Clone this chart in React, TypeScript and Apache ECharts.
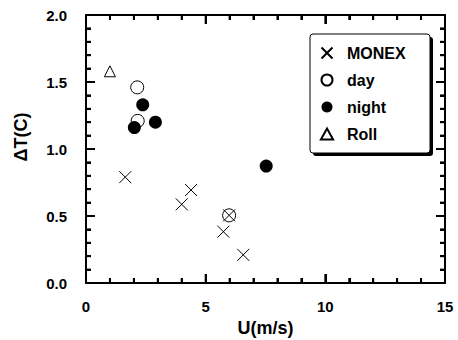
import React, { useEffect, useRef } from "react";
import * as echarts from "echarts";

const monex: number[][] = [
  [1.64, 0.79],
  [4.39, 0.694],
  [4.0, 0.587],
  [5.98, 0.505],
  [5.74, 0.383],
  [6.57, 0.21],
];
const day: number[][] = [
  [2.14, 1.46],
  [2.16, 1.21],
  [5.98, 0.505],
];
const night: number[][] = [
  [2.37, 1.33],
  [2.02, 1.16],
  [2.9, 1.2],
  [7.53, 0.873],
];
const roll: number[][] = [[1.0, 1.58]];

const xMajorTicks = [0, 5, 10, 15];
const xMinorTicks = [1, 2, 3, 4, 6, 7, 8, 9, 11, 12, 13, 14];
const yMajorTicks = [0, 0.5, 1.0, 1.5, 2.0];
const yMinorTicks = [0.1, 0.2, 0.3, 0.4, 0.6, 0.7, 0.8, 0.9, 1.1, 1.2, 1.3, 1.4, 1.6, 1.7, 1.8, 1.9];

const FONT = "Liberation Sans, Arial, Helvetica, sans-serif";
const CROSS = "path://M0,0L10,10M10,0L0,10";
const TRIANGLE = "path://M5,0L10,9L0,9Z";
const X_MIN = 0, X_MAX = 15, Y_MIN = 0, Y_MAX = 2;

function axisParts() {
  return {
    axisLine: { show: true, onZero: false, lineStyle: { color: "#000", width: 2 } },
    axisTick: { show: true, inside: true, length: 9, lineStyle: { color: "#000", width: 2 } },
    minorTick: { show: true, splitNumber: 5, length: 5, lineStyle: { color: "#000", width: 2 } },
    splitLine: { show: false },
  };
}

export default function App() {
  const ref = useRef<HTMLDivElement>(null);
  useEffect(() => {
    const chart = echarts.init(ref.current!, null, { renderer: "svg" });
    const labelStyle = () => ({ color: "#000", fontFamily: FONT, fontWeight: "bold" as const, fontSize: 15 });
    // tick data: [value, kind] kind: 0 x-major, 1 x-minor, 2 y-major, 3 y-minor
    const tickData: number[][] = [
      ...xMajorTicks.map((v) => [v, 0]),
      ...xMinorTicks.map((v) => [v, 1]),
      ...yMajorTicks.map((v) => [v, 2]),
      ...yMinorTicks.map((v) => [v, 3]),
    ];
    chart.setOption({
      animation: false,
      backgroundColor: "#fff",
      grid: { left: 86, top: 15, right: 13, bottom: 57, outerBoundsMode: "none" },
      xAxis: [
        {
          type: "value", min: X_MIN, max: X_MAX, interval: 5,
          ...axisParts(),
          axisLabel: { ...labelStyle(), margin: 16 },
          name: "U(m/s)", nameLocation: "middle", nameGap: 35,
          nameTextStyle: { color: "#000", fontFamily: FONT, fontWeight: "bold", fontSize: 18 },
        },
        {
          type: "value", min: X_MIN, max: X_MAX, interval: 5, position: "top",
          ...axisParts(), axisLabel: { show: false },
        },
      ],
      yAxis: [
        {
          type: "value", min: Y_MIN, max: Y_MAX, interval: 0.5,
          ...axisParts(),
          axisLabel: { ...labelStyle(), margin: 19, formatter: (v: number) => v.toFixed(1) },
          name: "ΔT(C)", nameLocation: "middle", nameGap: 56, nameRotate: 90,
          nameTextStyle: { color: "#000", fontFamily: FONT, fontWeight: "bold", fontSize: 18, padding: [0, 0, 0, 24] },
        },
        {
          type: "value", min: Y_MIN, max: Y_MAX, interval: 0.5, position: "right",
          ...axisParts(), axisLabel: { show: false },
        },
      ],
      legend: {
        orient: "vertical", left: 314, top: 40, itemWidth: 30, itemHeight: 11, itemGap: 11,
        symbolKeepAspect: true,
        data: ["MONEX", "day", "night", "Roll"],
        textStyle: { color: "#000", fontFamily: FONT, fontWeight: "bold", fontSize: 16 },
        z: 10,
      },
      graphic: [
        { type: "rect", z: 5, shape: { x: 313, y: 37, width: 120, height: 119, r: 3 }, style: { fill: "#000" } },
        { type: "rect", z: 6, shape: { x: 310, y: 34, width: 120, height: 119, r: 3 }, style: { fill: "#fff", stroke: "#000", lineWidth: 1 } },
      ],
      series: [
        {
          name: "ticks", type: "custom", silent: true, clip: false, z: 3,
          xAxisIndex: 0, yAxisIndex: 0,
          data: tickData,
          renderItem: (_params: any, api: any) => {
            const v = Number(api.value(0));
            const kind = Number(api.value(1));
            const len = kind === 0 || kind === 2 ? 9 : 5;
            const st = { stroke: "#000", lineWidth: 2, fill: "none" };
            if (kind < 2) {
              const b = api.coord([v, Y_MIN]);
              const t = api.coord([v, Y_MAX]);
              return {
                type: "group",
                children: [
                  { type: "line", shape: { x1: b[0], y1: b[1], x2: b[0], y2: b[1] - len }, style: st },
                  { type: "line", shape: { x1: t[0], y1: t[1], x2: t[0], y2: t[1] + len }, style: st },
                ],
              };
            }
            const l = api.coord([X_MIN, v]);
            const r = api.coord([X_MAX, v]);
            return {
              type: "group",
              children: [
                { type: "line", shape: { x1: l[0], y1: l[1], x2: l[0] + len, y2: l[1] }, style: st },
                { type: "line", shape: { x1: r[0], y1: r[1], x2: r[0] - len, y2: r[1] }, style: st },
              ],
            };
          },
        },
        {
          name: "MONEX", type: "scatter", data: monex, symbol: CROSS, symbolSize: 12,
          color: "#000",
          itemStyle: { color: "none", borderColor: "#000", borderWidth: 1, opacity: 1 },
        },
        {
          name: "day", type: "scatter", data: day, symbol: "circle", symbolSize: 13,
          color: "#000",
          itemStyle: { color: "rgba(0,0,0,0)", borderColor: "#000", borderWidth: 1, opacity: 1 },
        },
        {
          name: "night", type: "scatter", data: night, symbol: "circle", symbolSize: 13,
          color: "#000",
          itemStyle: { color: "#000", opacity: 1 },
        },
        {
          name: "Roll", type: "scatter", data: roll, symbol: TRIANGLE, symbolSize: 11,
          color: "#000",
          itemStyle: { color: "rgba(0,0,0,0)", borderColor: "#000", borderWidth: 1, opacity: 1 },
        },
      ],
    });
    return () => chart.dispose();
  }, []);
  return <div ref={ref} style={{ width: 458, height: 340, position: "absolute", left: 0, top: 0 }} />;
}
